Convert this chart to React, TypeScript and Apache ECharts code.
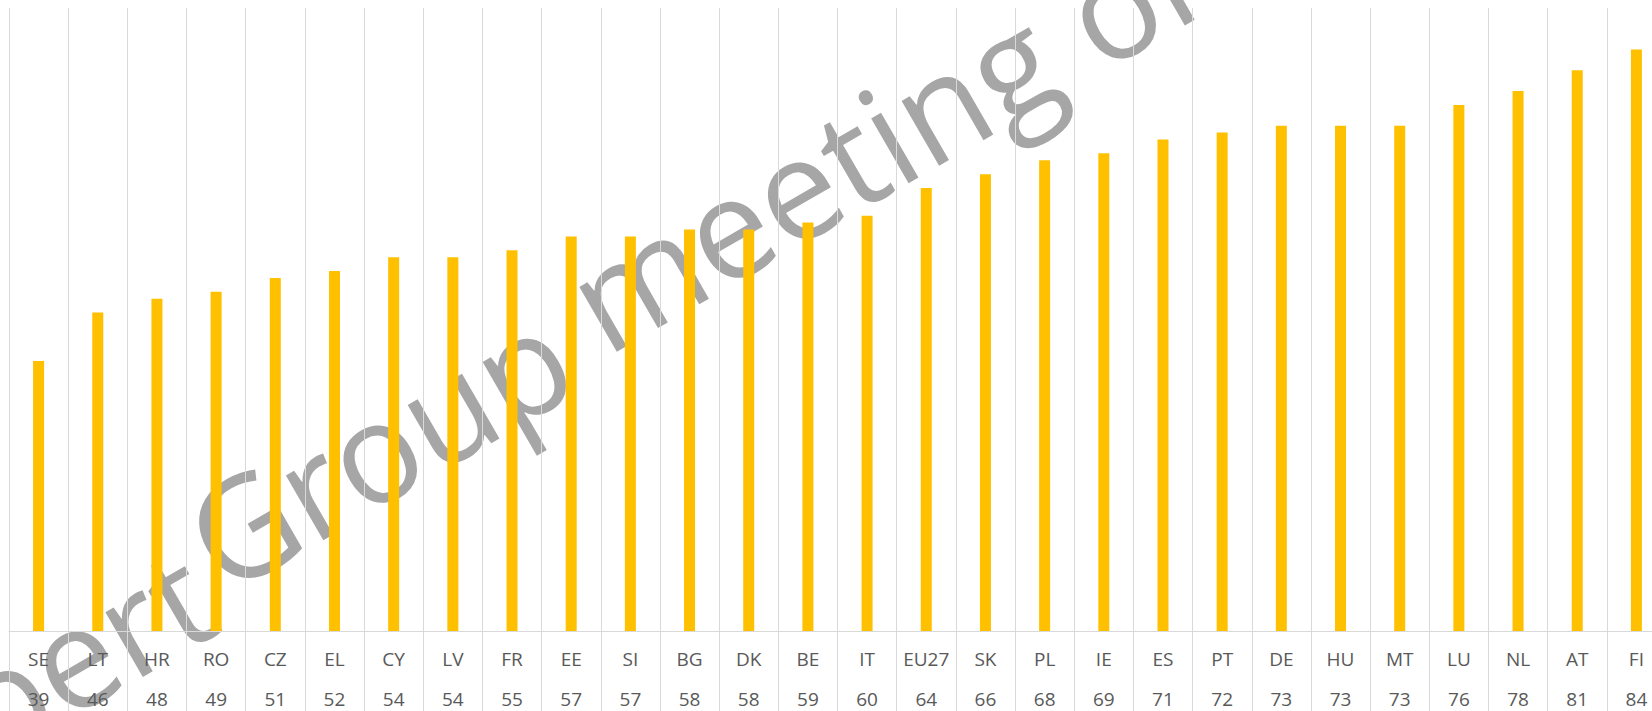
import React, { useEffect, useRef } from "react";
import * as echarts from "echarts";

const countries = ["SE", "LT", "HR", "RO", "CZ", "EL", "CY", "LV", "FR", "EE", "SI", "BG", "DK", "BE", "IT", "EU27", "SK", "PL", "IE", "ES", "PT", "DE", "HU", "MT", "LU", "NL", "AT", "FI"];
const values = [39, 46, 48, 49, 51, 52, 54, 54, 55, 57, 57, 58, 58, 59, 60, 64, 66, 68, 69, 71, 72, 73, 73, 73, 76, 78, 81, 84];
const watermarkWords = ["Expert", "Group", "meeting", "on"];

const W = 1652;
const H = 711;

function watermarkGraphics() {
  const fs = 140;
  const theta = Math.PI / 6;
  const font = `${fs}px "Open Sans"`;
  // small per-word nudges (screen px) so the words sit where the reference has them
  const nudges = [
    [45, 32],
    [13, 18],
    [4, 4],
    [5, 5],
  ];
  let measure = (s: string) => s.length * 0.55 * fs;
  let lsb = 0.085 * fs;
  try {
    const ctx = document.createElement("canvas").getContext("2d");
    if (ctx) {
      ctx.font = font;
      measure = (s: string) => ctx.measureText(s).width;
      lsb = -ctx.measureText("m").actualBoundingBoxLeft;
    }
  } catch (e) {}
  const u = [Math.cos(theta), -Math.sin(theta)];
  const p = [Math.sin(theta), Math.cos(theta)];
  // anchor: bottom-left of the "m" stem of "meeting" on the baseline
  const B = [612, 348];
  const prefixM = measure(watermarkWords.slice(0, 2).join(" ") + " ");
  const start = [B[0] - (prefixM + lsb) * u[0], B[1] - (prefixM + lsb) * u[1]];
  const off = 0.388 * fs;
  return watermarkWords.map((w, i) => {
    const pre = i === 0 ? 0 : measure(watermarkWords.slice(0, i).join(" ") + " ");
    const x = start[0] + pre * u[0] - off * p[0] + nudges[i][0];
    const y = start[1] + pre * u[1] - off * p[1] + nudges[i][1];
    return {
      type: "text",
      x,
      y,
      rotation: theta,
      z: -10,
      silent: true,
      style: {
        text: w,
        font,
        fill: "#A6A6A6",
        align: "left",
        verticalAlign: "middle",
        textAlign: "left",
        textVerticalAlign: "middle",
      },
    };
  });
}

export default function App() {
  const ref = useRef<HTMLDivElement>(null);
  useEffect(() => {
    document.body.style.margin = "0";
    if (!ref.current) return;
    const chart = echarts.init(ref.current, null, { renderer: "svg" });
    const labelStyle = {
      fontFamily: "Open Sans",
      fontSize: 19,
      color: "#595959",
      lineHeight: 40,
    };
    chart.setOption({
      animation: false,
      backgroundColor: "#ffffff",
      graphic: { elements: watermarkGraphics() },
      grid: {
        left: 9,
        top: 8,
        width: 1657,
        bottom: 80,
        containLabel: false,
        outerBoundsMode: "none",
      },
      xAxis: {
        type: "category",
        data: countries,
        boundaryGap: true,
        axisLine: { show: true, lineStyle: { color: "#D9D9D9", width: 1 } },
        axisTick: { show: true, interval: 0, length: 80, lineStyle: { color: "#D9D9D9", width: 1 } },
        splitLine: { show: true, interval: 0, lineStyle: { color: "#D9D9D9", width: 1 } },
        axisLabel: {
          interval: 0,
          margin: 8,
          formatter: (v: string, i: number) => `{c|${v}}\n{v|${values[i]}}`,
          rich: { c: labelStyle, v: labelStyle },
        },
      },
      yAxis: {
        type: "value",
        min: 0,
        max: 90,
        axisLine: { show: false },
        axisTick: { show: false },
        axisLabel: { show: false },
        splitLine: { show: false },
      },
      series: [
        {
          type: "bar",
          data: values,
          barWidth: 11,
          itemStyle: { color: "#FFC000" },
          z: 2,
        },
      ],
    });
    return () => chart.dispose();
  }, []);
  return <div ref={ref} style={{ width: W, height: H }} />;
}
